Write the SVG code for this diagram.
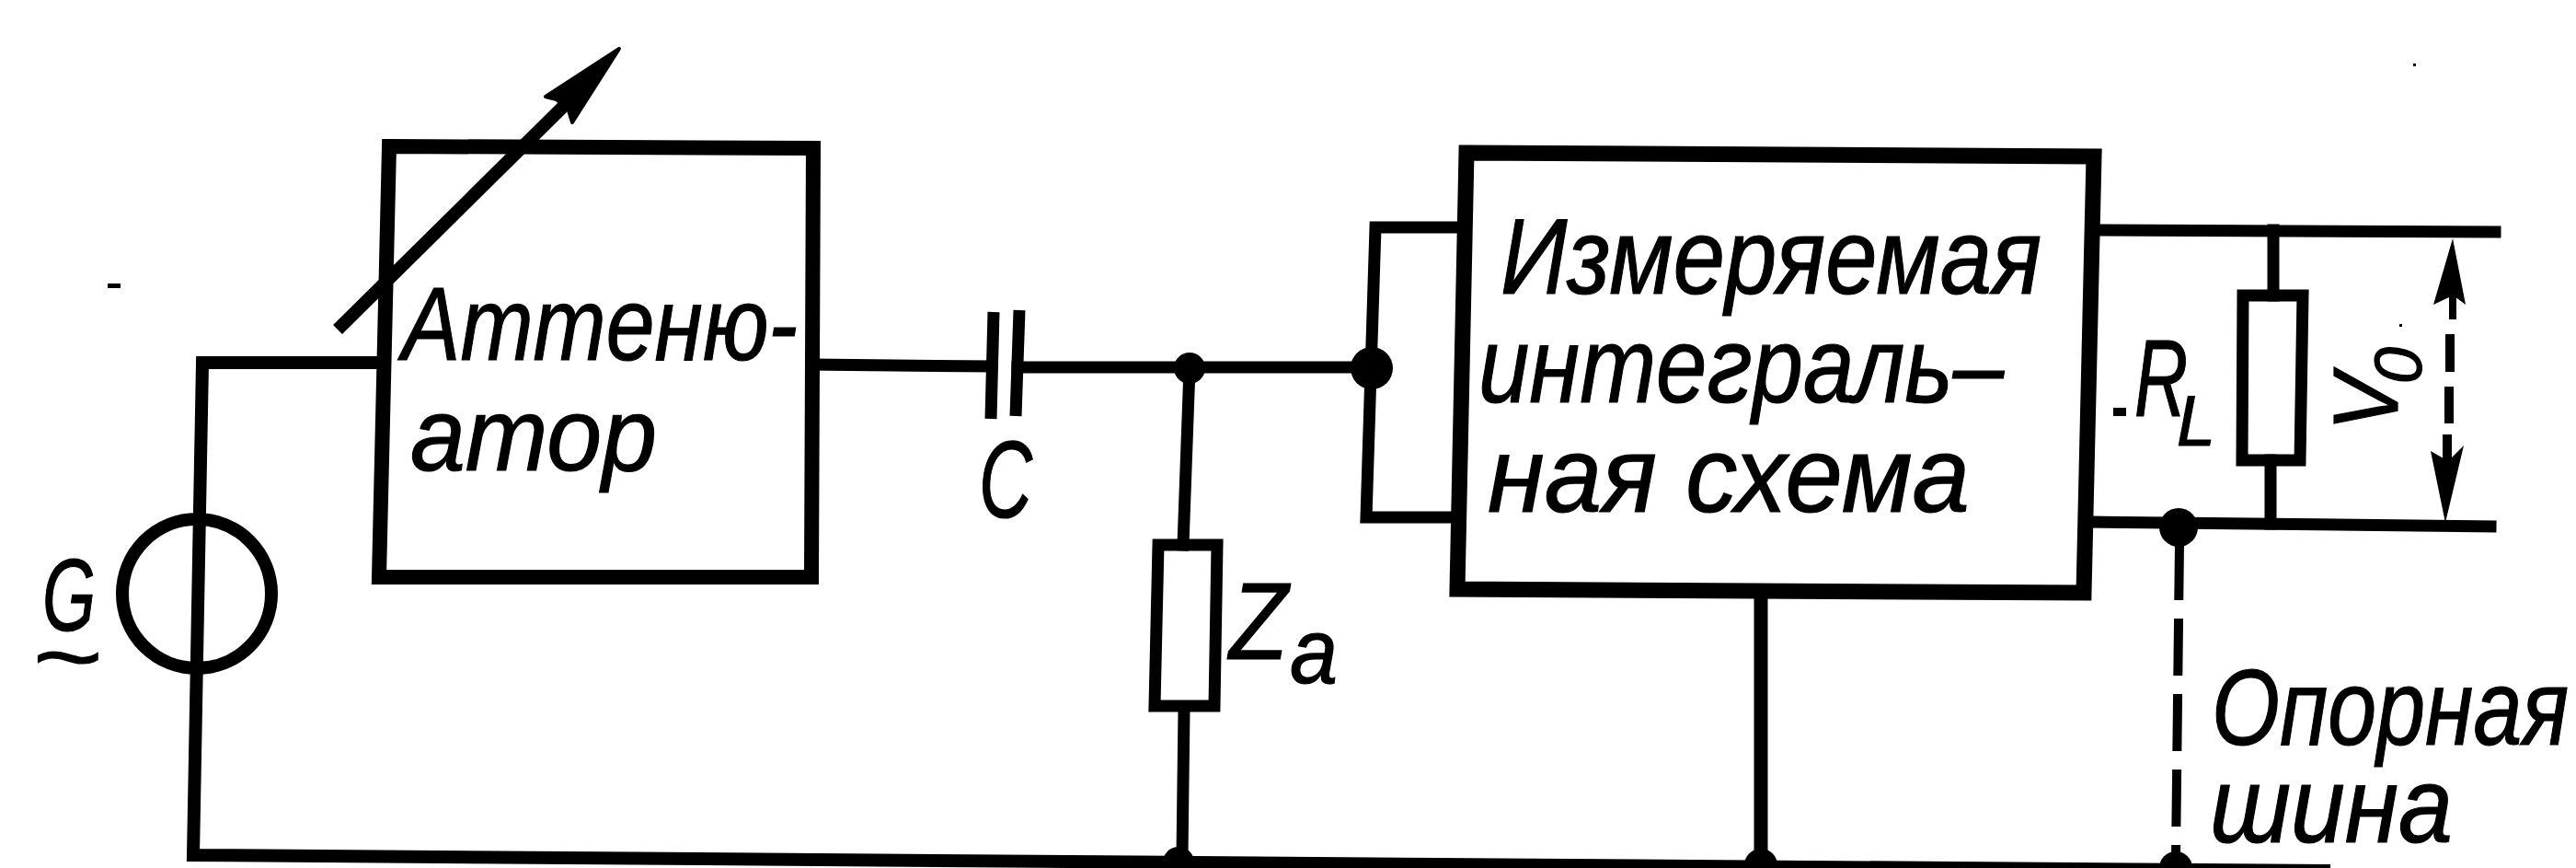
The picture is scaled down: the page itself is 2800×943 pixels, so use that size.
<svg xmlns="http://www.w3.org/2000/svg" width="2800" height="943" viewBox="0 0 2800 943">
<style>
.w{fill:none;stroke:#000;stroke-width:13;stroke-linecap:square;stroke-linejoin:miter}
.b{fill:none;stroke:#000;stroke-width:17}
.r{fill:none;stroke:#000;stroke-width:13}
.d{fill:#000;stroke:none}
.dash{fill:none;stroke:#000;stroke-width:10}
text{font-family:"Liberation Sans",Arial,sans-serif;font-style:italic;fill:#000;stroke:#000;stroke-width:1.2}
.t{font-size:116px}
</style>
<rect width="2800" height="943" fill="#fff"/>
<g id="connectors">
<path class="w" d="M405 394H220L210 929L2526 946" style="stroke-width:14"/>
<path class="w" d="M883 396L1075 398"/>
<path class="w" d="M1106 399H1491"/>
<path class="w" d="M1293 400L1286 592M1287 772L1285 930"/>
<path class="w" d="M1585 247H1495L1485 562H1577"/>
<path class="w" d="M2285 250L2712 252"/>
<path class="w" d="M2273 567L2707 572"/>
<path class="w" d="M2471 250V321M2468 500V569"/>
<path class="w" d="M1914 644V936" style="stroke-width:15"/>
<path class="dash" d="M2369 590L2365 933" stroke-dasharray="62 20"/>
<path class="dash" d="M2666 300V347" style="stroke-width:8"/>
<path class="dash" d="M2663 363V404M2662 420V460M2660 472V510" style="stroke-width:10"/>
<path class="d" d="M2666 259L2680 331L2668 322L2664 322L2645 331Z"/>
<path class="d" d="M2658 568L2678 484L2664 498L2656 498L2642 490Z"/>
</g>
<g id="attenuator">
<path class="b" d="M423 159L884 161L882 627L412 627Z" style="stroke-width:16"/>
<text class="t" x="437" y="391" textLength="430" lengthAdjust="spacingAndGlyphs" style="font-size:113px">Аттеню-</text>
<text class="t" x="446" y="511" textLength="268" lengthAdjust="spacingAndGlyphs" style="font-size:113px">атор</text>
</g>
<g id="tuning-arrow">
<path d="M367 358L615 113" fill="none" stroke="#000" stroke-width="14"/>
<path class="d" d="M673 53L622 133L618 120L605 108L593 105Z" stroke-width="4" stroke-linejoin="round" style="stroke:#000"/>
</g>
<g id="generator">
<circle cx="214" cy="645" r="81" fill="none" stroke="#000" stroke-width="14"/>
<text x="46" y="685" textLength="58" lengthAdjust="spacingAndGlyphs" style="font-size:112px">G</text>
<text x="34" y="748" textLength="76" lengthAdjust="spacingAndGlyphs" style="font-size:100px">~</text>
</g>
<g id="capacitor">
<path class="r" d="M1080 339L1077 455M1108 337L1104 452"/>
<text x="1064" y="562" textLength="58" lengthAdjust="spacingAndGlyphs" style="font-size:118px">C</text>
</g>
<g id="node-a"><circle class="d" cx="1293" cy="400" r="17"/></g>
<g id="node-b"><circle class="d" cx="1491" cy="400" r="23"/></g>
<g id="za">
<path class="r" d="M1259 592L1323 592L1320 767L1255 767Z"/>
<text x="1336" y="716" textLength="64" lengthAdjust="spacingAndGlyphs" style="font-size:118px">Z</text>
<text x="1402" y="742" textLength="52" lengthAdjust="spacingAndGlyphs" style="font-size:100px">a</text>
</g>
<g id="ic">
<path class="b" d="M1594 166L2276 170L2265 644L1584 640Z"/>
<text class="t" x="1631" y="319" textLength="588" lengthAdjust="spacingAndGlyphs">Измеряемая</text>
<text class="t" x="1607" y="437" textLength="571" lengthAdjust="spacingAndGlyphs">интеграль–</text>
<text class="t" x="1617" y="556" textLength="524" lengthAdjust="spacingAndGlyphs">ная схема</text>
</g>
<g id="rl">
<path class="r" d="M2438 321L2503 321L2500 500L2437 500Z"/>
<text x="2320" y="452" textLength="58" lengthAdjust="spacingAndGlyphs" style="font-size:118px">R</text>
<text x="2366" y="484" textLength="42" lengthAdjust="spacingAndGlyphs" style="font-size:78px">L</text>
</g>
<g id="v0">
<text transform="translate(2606 468) rotate(-90)" textLength="62" lengthAdjust="spacingAndGlyphs" style="font-size:100px">V</text>
<text transform="translate(2632 417) rotate(-90)" textLength="40" lengthAdjust="spacingAndGlyphs" style="font-size:72px">0</text>
</g>
<g id="node-c"><circle class="d" cx="2368" cy="573" r="21"/></g>
<g id="node-bus-1"><circle class="d" cx="1281" cy="937" r="17"/></g>
<g id="node-bus-2"><circle class="d" cx="1914" cy="940" r="18"/></g>
<g id="node-bus-3"><circle class="d" cx="2365" cy="943" r="18"/></g>
<g id="reference-bus-label">
<text class="t" transform="translate(2404 809) scale(0.82 1)">Опорная</text>
<text class="t" x="2402" y="915" textLength="264" lengthAdjust="spacingAndGlyphs">шина</text>
</g>
<g id="specks">
<rect x="117" y="308" width="14" height="5"/>
<rect x="2297" y="443" width="14" height="9"/>
<rect x="2623" y="69" width="3" height="3"/>
<rect x="2608" y="352" width="3" height="3"/>
</g>
</svg>
